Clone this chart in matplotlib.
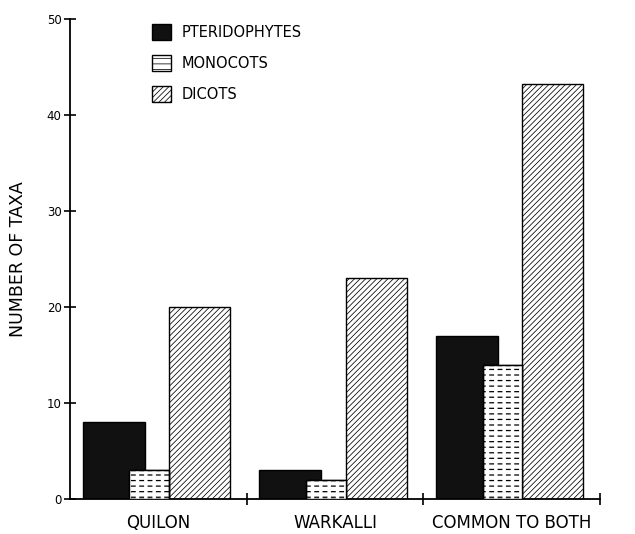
import matplotlib.pyplot as plt
import numpy as np

# data
sites = ["QUILON", "WARKALLI", "COMMON TO BOTH"]
groups = ["PTERIDOPHYTES", "MONOCOTS", "DICOTS"]
pteridophytes = [8, 3, 17]
monocots = [3, 2, 14]
dicots = [20, 23, 43.3]

plt.rcParams["hatch.linewidth"] = 0.55

fig = plt.figure(figsize=(6.35, 5.34), dpi=100)
ax = fig.add_axes([0.110, 0.0655, 0.835, 0.8985])

x = np.arange(len(sites))

# bars overlap a little inside each group, monocots drawn on top
ax.bar(x + 0.073, pteridophytes, width=0.35, align="edge", color="#111111",
       edgecolor="black", linewidth=1.0, label=groups[0], zorder=2)
ax.bar(x + 0.56, dicots, width=0.345, align="edge", color="white",
       edgecolor="black", hatch="//////", linewidth=1.0, label=groups[2], zorder=2)
mono = ax.bar(x + 0.335, monocots, width=0.225, align="edge", color="white",
              edgecolor="black", hatch="---", linewidth=1.0, label=groups[1], zorder=3)
for p in mono:
    p.set_hatch_linewidth(0.9)
# white vertical hatch cuts the lines into dashes
cuts = ax.bar(x + 0.335, monocots, width=0.225, align="edge", fill=False,
              edgecolor="white", hatch="||", linewidth=0, zorder=4)
for p in cuts:
    p.set_hatch_linewidth(2.5)
ax.bar(x + 0.335, monocots, width=0.225, align="edge", fill=False,
       edgecolor="black", linewidth=1.0, zorder=5)

ax.set_xlim(0, 3)
ax.set_ylim(0, 50)

ax.spines["top"].set_visible(False)
ax.spines["right"].set_visible(False)
ax.spines["left"].set_linewidth(1.3)
ax.spines["bottom"].set_linewidth(1.3)

ax.set_yticks(np.arange(0, 51, 10))
ax.tick_params(axis="y", direction="inout", length=8, width=1.2, labelsize=8.5, pad=2)

ax.set_xticks([1, 2, 3])
ax.set_xticklabels([])
ax.set_xticks(x + 0.5, minor=True)
ax.set_xticklabels(sites, minor=True, fontsize=12)
ax.tick_params(axis="x", which="major", direction="inout", length=8, width=1.2)
ax.tick_params(axis="x", which="minor", length=0, pad=11)

ax.set_ylabel("NUMBER OF TAXA", fontsize=12.5, labelpad=14)

h, l = ax.get_legend_handles_labels()
order = [0, 2, 1]
ax.legend([h[i] for i in order], [l[i] for i in order], loc="upper left",
          bbox_to_anchor=(152 / 635, 1 - 24 / 534), bbox_transform=fig.transFigure,
          frameon=False, fontsize=10.5, handlelength=1.3, handleheight=1.3,
          labelspacing=1.05, handletextpad=0.7, borderpad=0, borderaxespad=0)

fig.savefig("out.png", dpi=100)
